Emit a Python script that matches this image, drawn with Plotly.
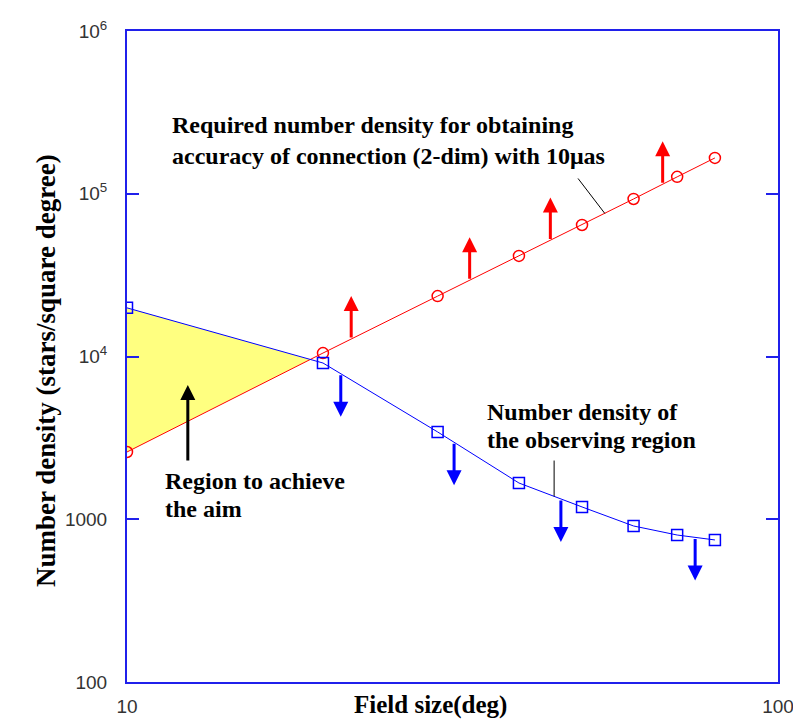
import numpy as np
import plotly.graph_objects as go

# ---- data ----
field_size = [10, 20, 30, 40, 50, 60, 70, 80]
required_density = [2590, 10500, 23500, 41500, 64300, 92900, 127000, 166000]
observed_density = [19900, 9120, 3440, 1670, 1190, 909, 800, 746]
red_arrow_x = [22.1, 33.6, 44.7, 66.5]
blue_arrow_x = [21.3, 31.8, 46.4, 74.6]
aim_arrow_x = 12.4
aim_arrow_tail, aim_arrow_tip = 2250, 6680
y_tickvals = [100, 1000, 1e4, 1e5, 1e6]
y_ticktext = ["100", "1000", "10<sup>4</sup>", "10<sup>5</sup>", "10<sup>6</sup>"]
x_tickvals = [10, 100]
x_ticktext = ["10", "100"]

# ---- layout constants ----
W, H = 801, 719
OFF = 8                     # page body margin offset
PL, PR, PT, PB = 127, 778, 31, 682   # plot area in page pixels
ML, MT = PL - OFF, PT - OFF
MR, MB = W - (PR - OFF), H - (PB - OFF)
plot_w = PR - PL
plot_h = PB - PT
decade_px = plot_h / 4.0
ARROW_PX = 43
arrow_dec = ARROW_PX / decade_px

AXIS_BLUE = "rgb(32,32,235)"
RED = "rgb(255,0,0)"
BLUE = "rgb(0,0,255)"
SERIF = "Liberation Serif, Times New Roman, serif"
SANS = "Liberation Sans, Arial, sans-serif"

lx = np.log10(field_size)
lr = np.log10(required_density)
lb = np.log10(observed_density)

# intersection of the first segments (log space) for the yellow region
d0 = lb[0] - lr[0]
d1 = lb[1] - lr[1]
t = d0 / (d0 - d1)
xi = lx[0] + t * (lx[1] - lx[0])
yi = lr[0] + t * (lr[1] - lr[0])

fig = go.Figure()
fig.add_trace(go.Scatter(
    x=[field_size[0], 10 ** xi, field_size[0]],
    y=[observed_density[0], 10 ** yi, required_density[0]],
    fill="toself", fillcolor="rgb(255,255,128)", mode="lines",
    line=dict(width=0), hoverinfo="skip", showlegend=False))
fig.add_trace(go.Scatter(
    x=field_size, y=required_density, mode="lines+markers",
    line=dict(color=RED, width=1),
    marker=dict(symbol="circle-open", size=11, color=RED, line=dict(width=1.5)),
    showlegend=False))
fig.add_trace(go.Scatter(
    x=field_size, y=observed_density, mode="lines+markers",
    line=dict(color=BLUE, width=1),
    marker=dict(symbol="square-open", size=11, color=BLUE, line=dict(width=1.5)),
    showlegend=False))

ann = []
for xa in red_arrow_x:
    lxa = np.log10(xa)
    base = np.interp(lxa, lx, lr)
    ann.append(dict(x=lxa, y=base + arrow_dec, ax=lxa, ay=base, xref="x", yref="y",
                    axref="x", ayref="y", showarrow=True, arrowhead=2, arrowsize=1,
                    arrowwidth=3, arrowcolor=RED, text="", standoff=0, startstandoff=0))
for xa in blue_arrow_x:
    lxa = np.log10(xa)
    base = np.interp(lxa, lx, lb)
    ann.append(dict(x=lxa, y=base - arrow_dec, ax=lxa, ay=base, xref="x", yref="y",
                    axref="x", ayref="y", showarrow=True, arrowhead=2, arrowsize=1,
                    arrowwidth=3, arrowcolor=BLUE, text="", standoff=0, startstandoff=0))
# black arrow
la = np.log10(aim_arrow_x)
ann.append(dict(x=la, y=np.log10(aim_arrow_tip), ax=la, ay=np.log10(aim_arrow_tail),
                xref="x", yref="y", axref="x", ayref="y", showarrow=True, arrowhead=2,
                arrowsize=1, arrowwidth=3, arrowcolor="black", text="", standoff=0))

# leader lines
lead1_x0, lead1_y0 = 49.1, 126800
lead1_x1 = 54.2
l1x1 = np.log10(lead1_x1)
ann.append(dict(x=l1x1, y=np.interp(l1x1, lx, lr), ax=np.log10(lead1_x0), ay=np.log10(lead1_y0),
                xref="x", yref="y", axref="x", ayref="y", showarrow=True, arrowhead=0,
                arrowwidth=1, arrowcolor="black", text="", standoff=0))
lead2_x, lead2_y0 = 45.3, 2344
l2x = np.log10(lead2_x)
ann.append(dict(x=l2x, y=np.interp(l2x, lx, lb), ax=l2x, ay=np.log10(lead2_y0),
                xref="x", yref="y", axref="x", ayref="y", showarrow=True, arrowhead=0,
                arrowwidth=1, arrowcolor="black", text="", standoff=0))

def px2paper(px, py):
    return (px - PL) / plot_w, (PB - py) / plot_h

def text_ann(txt, px, py, size=24):
    x, y = px2paper(px, py)
    return dict(text=txt, x=x, y=y, xref="paper", yref="paper", xanchor="left",
                yanchor="middle", showarrow=False,
                font=dict(family=SERIF, size=size, color="black"))

ann.append(text_ann("<b>Required number density for obtaining</b>", 170, 125))
ann.append(text_ann("<b>accuracy of connection (2-dim) with 10μas</b>", 170, 156))
ann.append(text_ann("<b>Number density of</b>", 485, 412))
ann.append(text_ann("<b>the observing region</b>", 485, 440))
ann.append(text_ann("<b>Region to achieve</b>", 163, 481))
ann.append(text_ann("<b>the aim</b>", 163, 509))

tx, ty = px2paper(46, 371)
ann.append(dict(text="<b>Number density (stars/square degree)</b>", x=tx, y=ty,
                xref="paper", yref="paper", textangle=-90, showarrow=False,
                xanchor="center", yanchor="middle",
                font=dict(family=SERIF, size=27, color="black")))
tx, ty = px2paper(430, 705)
ann.append(dict(text="<b>Field size(deg)</b>", x=tx, y=ty, xref="paper", yref="paper",
                showarrow=False, xanchor="center", yanchor="middle",
                font=dict(family=SERIF, size=25, color="black")))

fig.update_layout(
    width=W, height=H, margin=dict(l=ML, r=MR, t=MT, b=MB, autoexpand=False),
    paper_bgcolor="white", plot_bgcolor="white", annotations=ann,
    xaxis=dict(type="log", range=[1, 2], showgrid=False, zeroline=False, automargin=False,
               showline=True, linecolor=AXIS_BLUE, linewidth=2, mirror=True,
               ticks="", tickvals=x_tickvals, ticktext=x_ticktext,
               tickfont=dict(family=SANS, size=19, color="#333"), ticklabelstandoff=6),
    yaxis=dict(type="log", range=[2, 6], showgrid=False, zeroline=False, automargin=False,
               showline=True, linecolor=AXIS_BLUE, linewidth=2, mirror="ticks",
               ticks="inside", ticklen=12, tickwidth=2, tickcolor=AXIS_BLUE,
               tickvals=y_tickvals, ticktext=y_ticktext,
               tickfont=dict(family=SANS, size=19, color="#333"), ticklabelstandoff=14),
)

fig.write_html("out.html")
